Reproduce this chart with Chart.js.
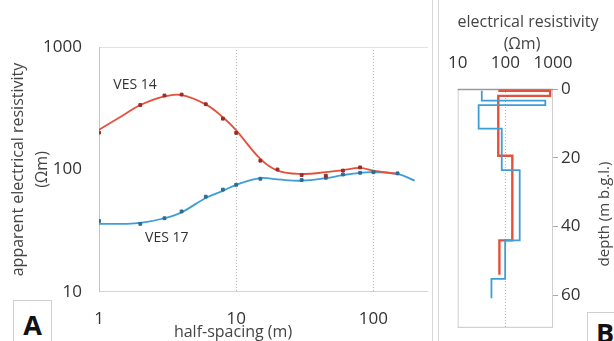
<!DOCTYPE html>
<html>
<head>
<meta charset="utf-8">
<script src="https://cdn.jsdelivr.net/npm/chart.js@4.4.1/dist/chart.umd.min.js"></script>
<style>
  html, body { margin: 0; padding: 0; background: #fff; }
  #wrap { position: relative; width: 614px; height: 341px; overflow: hidden; }
  canvas { position: absolute; top: 0; }
  #left { left: 0; }
  #right { left: 440px; }
  .sep { position: absolute; top: 0; width: 1px; height: 341px; background: #d6d6d6; }
  .tag { position: absolute; border: 1px solid #cfcfcf; background: #fff; color: #111;
         font: bold 27px 'Open Sans', sans-serif; text-align: center; }
</style>
</head>
<body>
<div id="wrap">
  <canvas id="left" width="433" height="341"></canvas>
  <div class="sep" style="left:432px"></div>
  <div class="sep" style="left:438px"></div>
  <canvas id="right" width="174" height="341"></canvas>
  <div class="tag" style="left:13px; top:300px; width:37px; height:50px; line-height:48px;">A</div>
  <div class="tag" style="left:587px; top:312px; width:34px; height:40px; line-height:40px;">B</div>
</div>
<script>
// sounding curves (panel A)
const spacing14 = [1, 2, 3, 4, 6, 8, 10, 15, 20, 30, 45, 60, 80];
const ves14 = [200, 336, 402, 409, 341, 260, 199, 118, 100, 90, 89, 98, 104];
const spacing17 = [1, 2, 3, 4, 6, 8, 10, 15, 30, 45, 60, 80, 100, 150];
const ves17 = [38, 36, 40, 45.5, 60, 68.5, 75, 84, 82, 85.5, 91, 94, 95, 93];

// fitted model curves
const modelSpacing = [1, 1.5, 2, 3, 4, 6, 8, 10, 15, 20, 30, 45, 60, 80, 100, 150, 200];
const model14 = [211, 277, 336, 395, 405, 340, 267, 209, 122, 98, 92, 95, 99, 103, 98, 92, null];
const model17 = [36, 36, 36.6, 40, 44.7, 58.6, 67, 75, 85, 83, 81, 85, 90, 94, 95, 92, 81];

const spacingTicks = [1, 10, 100];
const rhoTicks = [10, 100, 1000];

// layered models (panel B)
const layerRho14 = [71, 870, 870, 71, 71, 140, 140, 75, 75];
const layerDepth14 = [0.5, 0.5, 2, 2, 19.4, 19.4, 44, 44, 54];
const layerRho17 = [32, 32, 690, 690, 27.5, 27.5, 84, 84, 200, 200, 99, 99, 51, 51];
const layerDepth17 = [0.5, 3.4, 3.4, 4.7, 4.7, 11.5, 11.5, 23.6, 23.6, 44, 44, 55.2, 55.2, 60.8];
const depthTicks = [0, 20, 40, 60];

const RED = '#e5503c';
const BLUE = '#3f9dd8';
const FONT = "'Open Sans', sans-serif";
Chart.defaults.font.family = FONT;
Chart.defaults.color = '#333';

const pts = (xs, ys) => xs.map((x, i) => ({ x: x, y: ys[i] }));
const fixTicks = vals => scale => { scale.ticks = vals.map(v => ({ value: v })); };

const textNotes = {
  id: 'textNotes',
  afterDraw(chart, args, opts) {
    const ctx = chart.ctx;
    (opts.items || []).forEach(n => {
      let x = n.x, y = n.y;
      if (n.data) {
        x = chart.scales.x.getPixelForValue(n.x);
        y = chart.scales.y.getPixelForValue(n.y);
      }
      ctx.save();
      ctx.translate(x, y);
      if (n.rotate) ctx.rotate(n.rotate);
      ctx.font = n.font;
      ctx.fillStyle = n.color || '#333';
      ctx.textAlign = 'center';
      ctx.textBaseline = 'middle';
      ctx.fillText(n.text, 0, 0);
      ctx.restore();
    });
  }
};

// frame lines and dotted vertical grid lines, drawn under the data
const frame = {
  id: 'frame',
  beforeDatasetsDraw(chart, args, opts) {
    const a = chart.chartArea, ctx = chart.ctx;
    ctx.save();
    ctx.lineWidth = 1;
    ctx.strokeStyle = '#b4b4b4';
    ctx.setLineDash([1, 2]);
    (opts.dotted || []).forEach(v => {
      const px = Math.round(chart.scales.x.getPixelForValue(v)) + 0.5;
      ctx.beginPath();
      ctx.moveTo(px, a.top);
      ctx.lineTo(px, a.bottom);
      ctx.stroke();
    });
    ctx.setLineDash([]);
    (opts.sides || []).forEach(s => {
      ctx.strokeStyle = s.color;
      ctx.lineWidth = s.width || 1;
      ctx.beginPath();
      if (s.side === 'top') { ctx.moveTo(a.left, a.top + 0.5); ctx.lineTo(a.right, a.top + 0.5); }
      if (s.side === 'bottom') { ctx.moveTo(a.left, a.bottom - 0.5); ctx.lineTo(a.right, a.bottom - 0.5); }
      if (s.side === 'left') { ctx.moveTo(a.left + 0.5, a.top); ctx.lineTo(a.left + 0.5, a.bottom); }
      if (s.side === 'right') { ctx.moveTo(a.right - 0.5, a.top); ctx.lineTo(a.right - 0.5, a.bottom); }
      ctx.stroke();
    });
    ctx.restore();
  }
};

new Chart(document.getElementById('left'), {
  type: 'scatter',
  data: {
    datasets: [
      { data: pts(spacing14, ves14), backgroundColor: '#9a2d28', borderColor: '#9a2d28',
        pointStyle: 'rect', pointRadius: 2, order: 0 },
      { data: pts(spacing17, ves17), backgroundColor: '#2a6e92', borderColor: '#2a6e92',
        pointStyle: 'rect', pointRadius: 2, order: 0 },
      { data: pts(modelSpacing, model14), showLine: true, borderColor: RED, borderWidth: 1.8,
        pointRadius: 0, tension: 0.4, spanGaps: true, order: 1 },
      { data: pts(modelSpacing, model17), showLine: true, borderColor: BLUE, borderWidth: 1.8,
        pointRadius: 0, tension: 0.4, order: 1 }
    ]
  },
  plugins: [frame, textNotes],
  options: {
    responsive: false,
    animation: false,
    devicePixelRatio: 1,
    layout: { padding: { top: 47, right: 1, left: 0, bottom: 0 } },
    plugins: {
      legend: { display: false },
      tooltip: { enabled: false },
      frame: {
        dotted: [10, 100],
        sides: [{ side: 'top', color: '#e2e2e2' }, { side: 'bottom', color: '#d4d4d4' },
                { side: 'left', color: '#c4c4c4' }]
      },
      textNotes: {
        items: [
          { text: 'VES 14', x: 1.83, y: 489, data: true, font: '14px ' + FONT, color: '#333' },
          { text: 'VES 17', x: 3.12, y: 27.7, data: true, font: '14px ' + FONT, color: '#333' },
          { text: 'half-spacing (m)', x: 233, y: 332, font: '16px ' + FONT, color: '#444' }
        ]
      }
    },
    scales: {
      x: {
        type: 'logarithmic', min: 1, max: 250,
        afterBuildTicks: fixTicks(spacingTicks),
        afterFit: s => { s.height = 49; },
        ticks: { font: { size: 17 }, color: '#333', padding: 9, maxRotation: 0,
                 callback: v => String(v) },
        grid: { display: false },
        border: { display: false }
      },
      y: {
        type: 'logarithmic', min: 10, max: 1000,
        afterBuildTicks: fixTicks(rhoTicks),
        afterFit: s => { s.width = 99; },
        ticks: { font: { size: 17 }, color: '#333', padding: 9, callback: v => String(v) },
        grid: { display: false },
        border: { display: false },
        title: { display: true, text: ['apparent electrical resistivity', '(Ωm)'],
                 font: { size: 16, lineHeight: 1.5 }, color: '#444', padding: { top: 6, bottom: 0 } }
      }
    }
  }
});

new Chart(document.getElementById('right'), {
  type: 'scatter',
  data: {
    datasets: [
      { data: pts(layerRho17, layerDepth17), showLine: true, borderColor: BLUE, borderWidth: 1.8,
        pointRadius: 0, tension: 0 },
      { data: pts(layerRho14, layerDepth14), showLine: true, borderColor: RED, borderWidth: 2.4,
        pointRadius: 0, tension: 0 }
    ]
  },
  plugins: [frame, textNotes],
  options: {
    responsive: false,
    animation: false,
    devicePixelRatio: 1,
    layout: { padding: { top: 0, right: 0, left: 13, bottom: 8 } },
    plugins: {
      legend: { display: false },
      tooltip: { enabled: false },
      frame: {
        dotted: [100],
        sides: [{ side: 'left', color: '#d0d0d0' }, { side: 'bottom', color: '#c8c8c8' },
                { side: 'right', color: '#d0d0d0' }, { side: 'top', color: '#9a9a9a', width: 1.5 }]
      },
      textNotes: {
        items: [
          { text: 'electrical resistivity', x: 88, y: 22, font: '16px ' + FONT, color: '#444' },
          { text: '(Ωm)', x: 82, y: 44, font: '16px ' + FONT, color: '#444' },
          { text: 'depth (m b.g.l.)', x: 165, y: 214, rotate: -Math.PI / 2, font: '15px ' + FONT, color: '#444' }
        ]
      }
    },
    scales: {
      x: {
        type: 'logarithmic', position: 'top', min: 10, max: 1000,
        afterBuildTicks: fixTicks(rhoTicks),
        afterFit: s => { s.height = 89; },
        ticks: { font: { size: 17 }, color: '#333', padding: 8, maxRotation: 0,
                 callback: v => String(v) },
        grid: { display: false },
        border: { display: false }
      },
      y: {
        type: 'linear', position: 'right', reverse: true, min: 0, max: 69.4,
        afterBuildTicks: fixTicks(depthTicks),
        afterFit: s => { s.width = 61; },
        ticks: { font: { size: 17 }, color: '#333', padding: 3 },
        grid: { drawOnChartArea: false, tickLength: 5, tickColor: '#aaa' },
        border: { display: false }
      }
    }
  }
});
</script>
</body>
</html>
